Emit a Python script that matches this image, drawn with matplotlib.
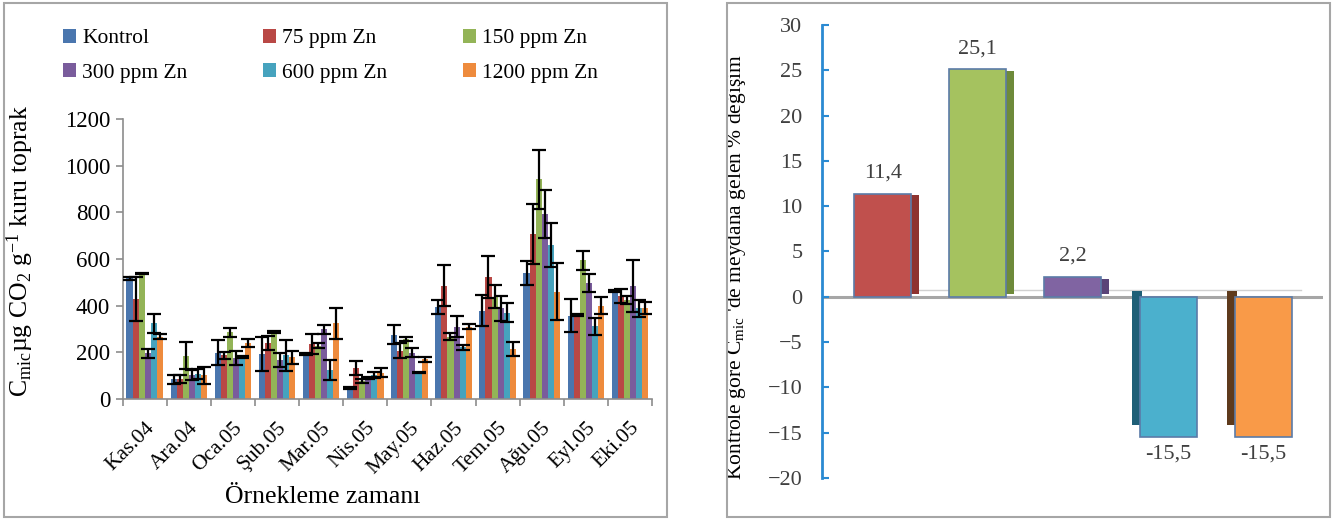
import numpy as np
import matplotlib
matplotlib.use("Agg")
import matplotlib.pyplot as plt
from matplotlib.patches import Rectangle, Patch

plt.rcParams['font.family'] = ['Liberation Serif', 'DejaVu Serif']
plt.rcParams['mathtext.fontset'] = 'custom'
plt.rcParams['mathtext.rm'] = 'Liberation Serif'
plt.rcParams['mathtext.it'] = 'Liberation Serif:italic'

# ---------------- data ----------------
months = ['Kas.04', 'Ara.04', 'Oca.05', 'Şub.05', 'Mar.05', 'Nis.05',
          'May.05', 'Haz.05', 'Tem.05', 'Ağu.05', 'Eyl.05', 'Eki.05']
series_names = ['Kontrol', '75 ppm Zn', '150 ppm Zn', '300 ppm Zn', '600 ppm Zn', '1200 ppm Zn']

kontrol = [517, 84, 199, 193, 193, 47, 276, 393, 379, 541, 357, 463]
ppm75 = [429, 84, 187, 240, 236, 131, 207, 486, 524, 707, 360, 441]
ppm150 = [539, 186, 286, 287, 229, 77, 257, 267, 439, 941, 594, 424]
ppm300 = [196, 103, 177, 167, 299, 91, 199, 310, 389, 793, 497, 484]
ppm600 = [324, 107, 180, 187, 124, 103, 113, 221, 370, 660, 311, 389]
ppm1200 = [267, 101, 239, 179, 324, 113, 170, 310, 214, 460, 400, 390]

err_kontrol = [5, 20, 55, 71, 3, 3, 41, 30, 65, 51, 71, 6]
err_75 = [94, 17, 14, 31, 42, 30, 33, 89, 89, 127, 3, 30]
err_150 = [3, 57, 19, 3, 10, 8, 10, 14, 49, 125, 39, 16]
err_300 = [19, 21, 30, 31, 20, 4, 19, 46, 54, 103, 39, 111]
err_600 = [39, 21, 3, 67, 44, 12, 3, 9, 41, 96, 36, 37]
err_1200 = [10, 36, 18, 27, 66, 18, 10, 11, 31, 123, 36, 25]

colors = ['#4A76AE', '#B94845', '#93B457', '#7A5C9C', '#46A3BE', '#EE8B3D']

change_groups = ['75 ppm Zn', '150 ppm Zn', '300 ppm Zn', '600 ppm Zn', '1200 ppm Zn']
change_values = [11.4, 25.1, 2.2, -15.5, -15.5]
change_colors = ['#C0504D', '#A5C25F', '#8064A2', '#4BB0CD', '#F99A48']
change_side = ['#8E3330', '#6E8A3A', '#5A4478', '#1F5F77', '#5E3A1C']

W, H = 1336, 520
fig = plt.figure(figsize=(W / 100, H / 100), dpi=100)

def fx(px):
    return px / W

def fy(py):
    return 1 - py / H

# panel borders
fig.patches.append(Rectangle((fx(4), fy(517)), fx(667) - fx(4), fy(3) - fy(517),
                             transform=fig.transFigure, fill=False, ec='#A6A6A6', lw=1.5))
fig.patches.append(Rectangle((fx(727), fy(517)), fx(1330) - fx(727), fy(3) - fy(517),
                             transform=fig.transFigure, fill=False, ec='#A6A6A6', lw=1.5))

# ---------------- left chart ----------------
ax = fig.add_axes([fx(122.7), fy(399), fx(652) - fx(122.7), fy(119) - fy(399)])
vals = [kontrol, ppm75, ppm150, ppm300, ppm600, ppm1200]
errs = [err_kontrol, err_75, err_150, err_300, err_600, err_1200]
x = np.arange(len(months))
bw = 0.138
for i, (v, e) in enumerate(zip(vals, errs)):
    pos = x + (i - 2.5) * bw
    ax.bar(pos, v, width=bw, color=colors[i], label=series_names[i], zorder=2)
    ax.errorbar(pos, v, yerr=e, fmt='none', ecolor='black', elinewidth=1.6,
                capsize=5, capthick=1.6, zorder=3)

ax.set_xlim(-0.5, len(months) - 0.5)
ax.set_ylim(0, 1200)
ax.set_yticks(range(0, 1201, 200))
ax.set_xticks(x)
ax.set_xticks(np.arange(-0.5, len(months), 1), minor=True)
ax.set_xticklabels(months, rotation=45, ha='right', va='top', rotation_mode='anchor', fontsize=15.5)
ax.tick_params(axis='x', which='major', length=0, pad=14)
ax.tick_params(axis='x', which='minor', length=5, color='#8C8C8C', width=1.2)
ax.tick_params(axis='y', length=5, color='#8C8C8C', width=1.2, labelsize=16.5, pad=4)
for s in ['top', 'right']:
    ax.spines[s].set_visible(False)
for s in ['left', 'bottom']:
    ax.spines[s].set_color('#8C8C8C')
    ax.spines[s].set_linewidth(1.2)
ax.set_ylabel(r'C$_{\mathrm{mic}}$µg CO$_2$ g$^{-1}$ kuru toprak', fontsize=18.5)
ax.yaxis.set_label_coords((36 - 122.7) / (652 - 122.7), 0.53)
fig.text(fx(323), fy(497), 'Örnekleme zamanı', ha='center', va='center', fontsize=18.5)

handles, labels = ax.get_legend_handles_labels()
order = [0, 3, 1, 4, 2, 5]
fig.legend([handles[k] for k in order], [labels[k] for k in order], ncol=3,
           loc='upper left', bbox_to_anchor=(fx(63), fy(29)), frameon=False,
           fontsize=15.5, handlelength=0.6, handleheight=0.6, handletextpad=0.3,
           columnspacing=3.5, labelspacing=0.7, borderpad=0, borderaxespad=0)

# ---------------- right chart ----------------
ax2 = fig.add_axes([fx(822), fy(478), fx(1323) - fx(822), fy(25) - fy(478)])
xr = np.arange(len(change_groups))
rbw = 0.6
side_w = 0.11
for i, v in enumerate(change_values):
    if v >= 0:
        ax2.bar(xr[i] + rbw / 2 - 0.03, v - 0.5, width=side_w, bottom=0.3, align='edge',
                color=change_side[i], zorder=1.5)
    else:
        ax2.bar(xr[i] - rbw / 2 - side_w + 0.03, v + 0.8, width=side_w, bottom=0.6, align='edge',
                color=change_side[i], zorder=1.5)
ax2.bar(xr, change_values, width=rbw, color=change_colors, edgecolor='#5B7BA8',
        linewidth=1.2, zorder=2)
ax2.axhline(0, color='#A6A6A6', lw=2.2, zorder=1)
ax2.plot([0.3, 4.4], [0.7, 0.7], color='#D0D0D0', lw=1.0, zorder=0.5)
for i, v in enumerate(change_values):
    lab = f'{v:.1f}'.replace('.', ',')
    off = 2.3 if v >= 0 else -1.9
    ax2.text(xr[i], v + off, lab, ha='center', va='center', fontsize=16, color='#404040')

ax2.set_xlim(-0.64, 4.63)
ax2.set_ylim(-20, 30)
ax2.set_yticks(range(-20, 31, 5))
ax2.set_xticks([])
ax2.tick_params(axis='y', direction='in', length=5, color='#2A8AD2', width=1.5,
                labelsize=16, labelcolor='#404040', pad=14)
for s in ['top', 'right', 'bottom']:
    ax2.spines[s].set_visible(False)
ax2.spines['left'].set_color('#2A8AD2')
ax2.spines['left'].set_linewidth(2)
ax2.set_ylabel("Kontrole göre C$_{\\mathrm{mic}}$ 'de meydana gelen % değişim", fontsize=15.5)
ax2.yaxis.set_label_coords((748 - 822) / (1323 - 822), 0.465)

fig.savefig('out.png', dpi=100)
